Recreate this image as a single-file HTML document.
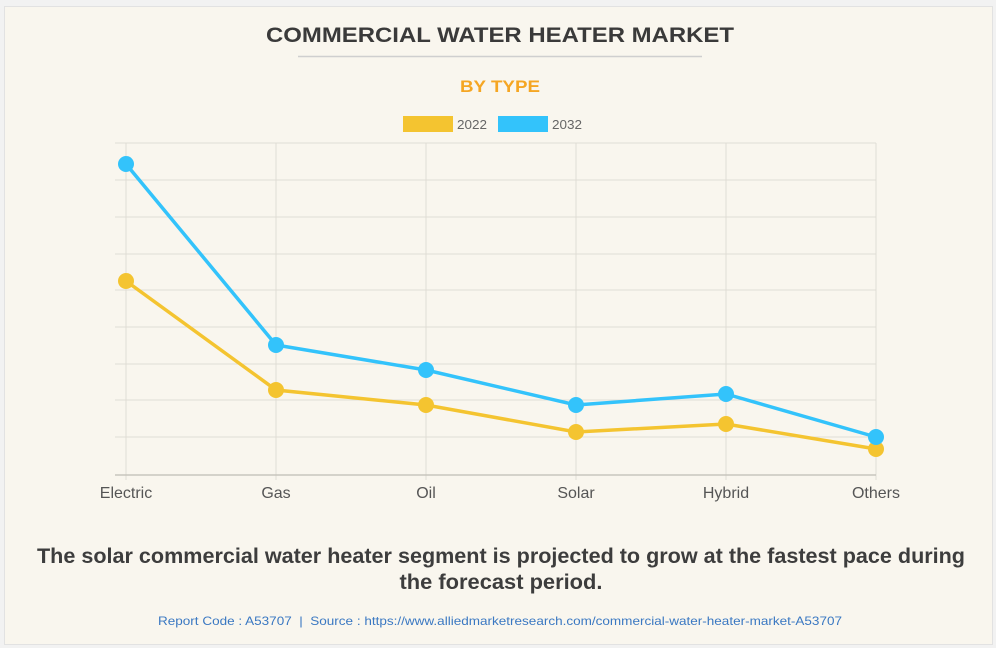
<!DOCTYPE html>
<html><head><style>
body{margin:0;width:996px;height:648px;background:#f2f2f2;font-family:"Liberation Sans",sans-serif;overflow:hidden}
.card{position:absolute;left:4px;top:6px;width:987px;height:637px;background:#f9f6ee;border:1px solid #e2e2e2}
</style></head><body>
<div class="card"></div>
<svg width="996" height="648" style="position:absolute;left:0;top:0" font-family="Liberation Sans, sans-serif">
<text x="500" y="42" text-anchor="middle" font-size="21" font-weight="bold" fill="#3a3a3a" textLength="468" lengthAdjust="spacingAndGlyphs">COMMERCIAL WATER HEATER MARKET</text>
<line x1="298" y1="56.5" x2="702" y2="56.5" stroke="#cfcfcf" stroke-width="1.5"/>
<text x="500" y="92" text-anchor="middle" font-size="17" font-weight="bold" fill="#f5a623" textLength="80" lengthAdjust="spacingAndGlyphs">BY TYPE</text>
<rect x="403" y="116" width="50" height="16" fill="#f4c430"/>
<text x="457" y="129" font-size="13" fill="#666" textLength="30" lengthAdjust="spacingAndGlyphs">2022</text>
<rect x="498" y="116" width="50" height="16" fill="#33c3fb"/>
<text x="552" y="129" font-size="13" fill="#666" textLength="30" lengthAdjust="spacingAndGlyphs">2032</text>
<g stroke="#e0ddd5" stroke-width="1">
<line x1="115" y1="143" x2="876" y2="143"/><line x1="115" y1="180" x2="876" y2="180"/><line x1="115" y1="217" x2="876" y2="217"/><line x1="115" y1="254" x2="876" y2="254"/><line x1="115" y1="290" x2="876" y2="290"/><line x1="115" y1="327" x2="876" y2="327"/><line x1="115" y1="364" x2="876" y2="364"/><line x1="115" y1="400" x2="876" y2="400"/><line x1="115" y1="437" x2="876" y2="437"/>
<line x1="126" y1="143" x2="126" y2="480"/><line x1="276" y1="143" x2="276" y2="480"/><line x1="426" y1="143" x2="426" y2="480"/><line x1="576" y1="143" x2="576" y2="480"/><line x1="726" y1="143" x2="726" y2="480"/><line x1="876" y1="143" x2="876" y2="480"/>
</g>
<line x1="115" y1="475" x2="876" y2="475" stroke="#c8c5bd" stroke-width="1.5"/>
<g fill="#f4c430"><polyline points="126,281 276,390 426,405 576,432 726,424 876,449" fill="none" stroke="#f4c430" stroke-width="3.5"/>
<circle cx="126" cy="281" r="8"/><circle cx="276" cy="390" r="8"/><circle cx="426" cy="405" r="8"/><circle cx="576" cy="432" r="8"/><circle cx="726" cy="424" r="8"/><circle cx="876" cy="449" r="8"/></g>
<g fill="#33c3fb"><polyline points="126,164 276,345 426,370 576,405 726,394 876,437" fill="none" stroke="#33c3fb" stroke-width="3.5"/>
<circle cx="126" cy="164" r="8"/><circle cx="276" cy="345" r="8"/><circle cx="426" cy="370" r="8"/><circle cx="576" cy="405" r="8"/><circle cx="726" cy="394" r="8"/><circle cx="876" cy="437" r="8"/></g>
<g font-size="16" fill="#555" text-anchor="middle">
<text x="126" y="498">Electric</text><text x="276" y="498">Gas</text><text x="426" y="498">Oil</text><text x="576" y="498">Solar</text><text x="726" y="498">Hybrid</text><text x="876" y="498">Others</text></g>
<g font-size="21" font-weight="bold" fill="#3d3d3d" text-anchor="middle">
<text x="501" y="563" textLength="928" lengthAdjust="spacingAndGlyphs">The solar commercial water heater segment is projected to grow at the fastest pace during</text>
<text x="501" y="589" textLength="203" lengthAdjust="spacingAndGlyphs">the forecast period.</text></g>
<text x="500" y="625" text-anchor="middle" font-size="12" fill="#3a78c2" textLength="684" lengthAdjust="spacingAndGlyphs" xml:space="preserve">Report Code : A53707  |  Source : https://www.alliedmarketresearch.com/commercial-water-heater-market-A53707</text>
</svg>
</body></html>
